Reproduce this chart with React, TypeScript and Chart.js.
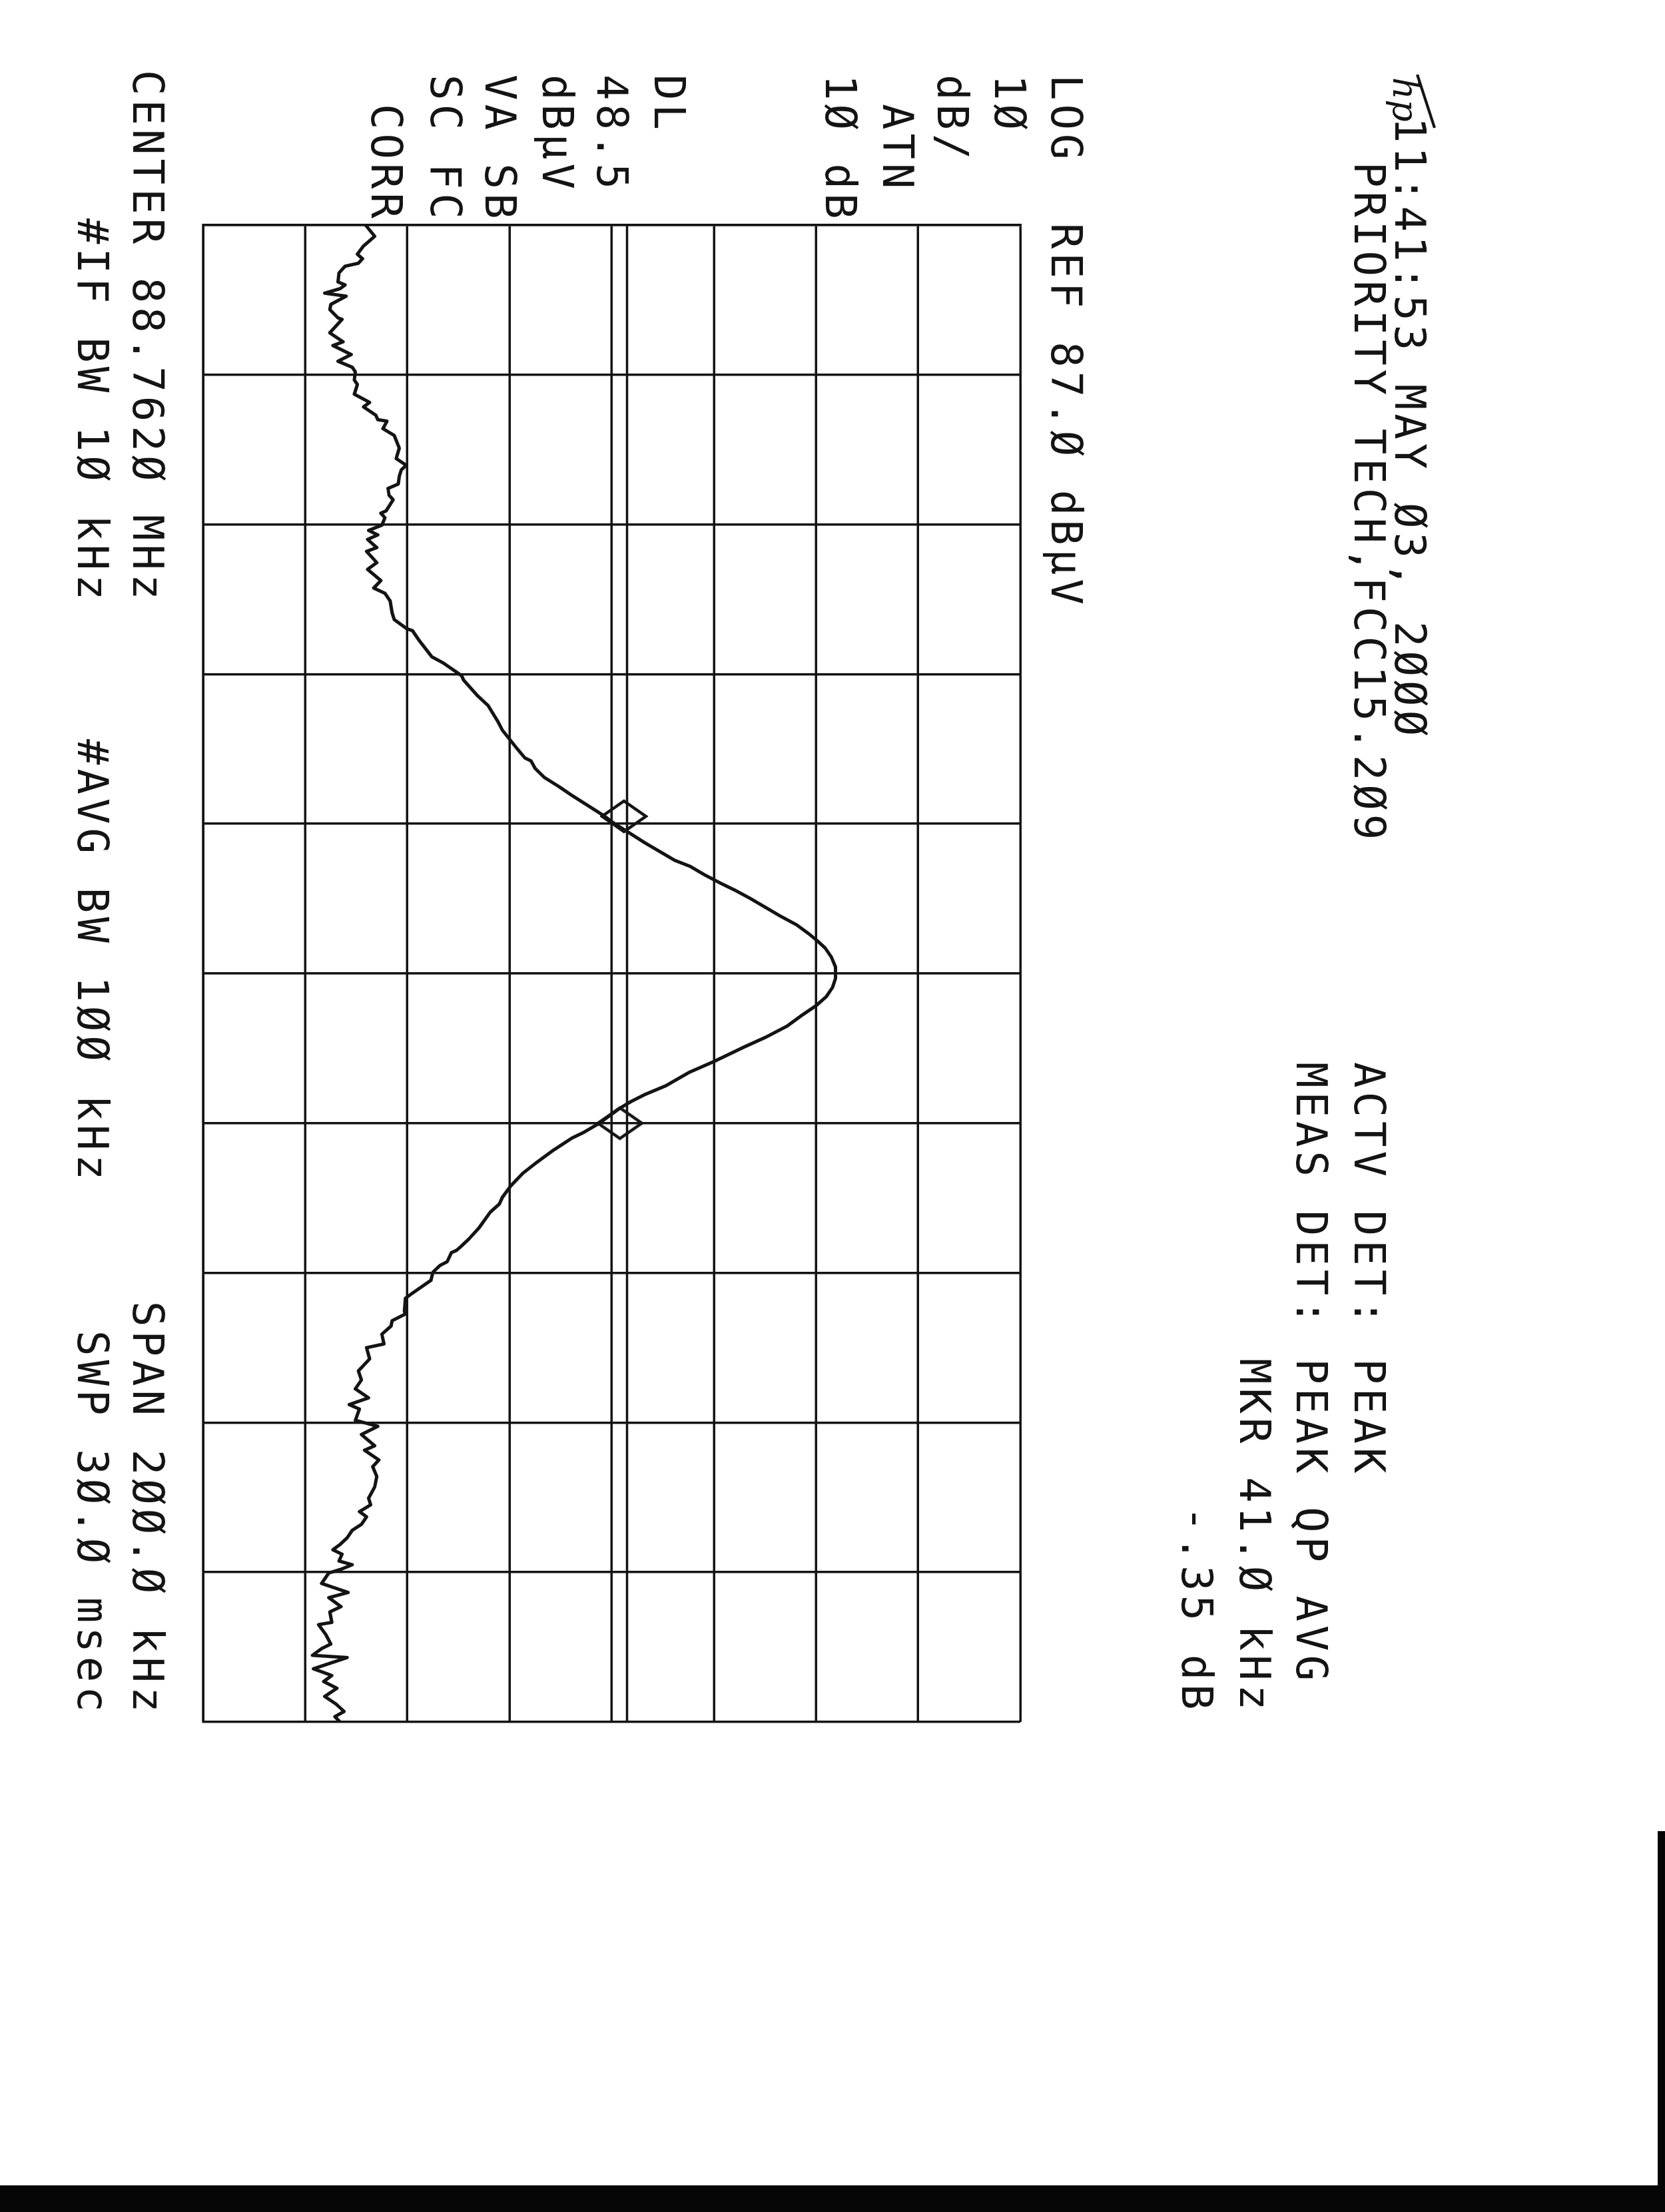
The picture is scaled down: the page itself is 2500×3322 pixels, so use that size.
import { useEffect, useRef } from 'react';
import { Chart, registerables } from 'chart.js';

Chart.register(...registerables);

// ---------------- DATA ----------------
// Frequency offset from the 88.762 MHz centre (kHz)
const freqOffsetsKHz = [
  -100, -98.5, -97.2, -96.1, -95.5, -94.9, -94.5, -93.6, -92.4, -92.0, -91.5, -90.9, -90.5, -89.4, -88.7,
  -87.6, -87.4, -85.6, -84.4, -83.9, -82.7, -81.8, -81.0, -80.4, -79.3, -78.7, -77.4, -76.6, -76.3, -75.7,
  -74.6, -74.0, -73.8, -72.8, -71.9, -70.2, -68.8, -67.9, -67.3, -66.4, -65.4, -64.8, -63.9, -63.3, -61.8,
  -61.5, -60.9, -59.9, -59.2, -58.6, -58.0, -56.9, -56.4, -54.9, -54.0, -52.5, -51.5, -50.8, -49.8, -48.2,
  -47.3, -46.1, -45.8, -44.4, -42.3, -41.5, -39.8, -39.2, -37.2, -35.8, -33.8, -32.5, -31.3, -30.1, -28.8,
  -28.4, -27.4, -26.2, -25.0, -23.8, -22.5, -21.2, -20.0, -18.8, -17.5, -16.3, -15.1, -14.3, -13.1, -12.1,
  -11.1, -10.0, -8.8, -7.6, -6.5, -5.3, -4.4, -3.4, -2.2, -0.9, 0.0, 0.7, 1.9, 3.1, 4.3,
  5.6, 7.0, 8.5, 9.8, 11.7, 13.2, 15.0, 16.2, 17.1, 18.0, 19.2, 20.0, 21.2, 22.0, 23.6,
  25.4, 26.7, 28.4, 29.9, 30.8, 31.9, 34.0, 35.5, 36.4, 37.0, 37.3, 38.5, 39.0, 39.9, 41.0,
  42.8, 43.4, 45.1, 45.5, 46.4, 47.1, 48.2, 49.5, 50.0, 51.5, 53.1, 54.3, 55.5, 56.7, 57.6,
  58.2, 59.7, 60.5, 61.6, 63.1, 63.7, 65.0, 65.9, 67.2, 68.6, 70.1, 71.0, 71.9, 72.6, 73.6,
  74.4, 75.4, 76.3, 77.0, 77.6, 78.5, 79.0, 79.6, 80.1, 81.5, 82.7, 83.4, 84.6, 85.3, 86.7,
  87.0, 88.3, 89.6, 90.2, 91.1, 91.4, 92.9, 93.8, 94.6, 95.5, 96.6, 97.6, 98.6, 99.3, 100,
];

// Measured level (dBµV)
const levelsDbuv = [
  22.9, 23.8, 22.7, 22.1, 22.6, 22.2, 20.9, 20.3, 20.2, 20.9, 20.4, 18.9, 21.0, 19.5, 19.4,
  20.2, 20.6, 19.4, 20.7, 19.7, 21.5, 20.2, 21.6, 21.9, 21.8, 22.1, 21.8, 22.9, 23.3, 22.7,
  23.9, 24.1, 25.0, 24.6, 25.7, 26.2, 25.9, 26.9, 26.4, 26.2, 26.1, 25.1, 25.2, 25.6, 24.9,
  24.4, 24.8, 24.5, 23.2, 24.1, 23.1, 24.0, 23.0, 24.0, 23.1, 24.4, 23.7, 24.8, 25.3, 25.5,
  25.7, 26.9, 27.5, 28.2, 29.4, 30.5, 32.3, 32.5, 33.8, 34.9, 35.8, 36.3, 37.0, 37.7, 38.5,
  39.1, 39.5, 40.4, 41.8, 43.1, 44.6, 46.1, 47.3, 48.7, 50.2, 51.7, 53.2, 54.7, 56.2, 57.6,
  59.1, 60.6, 62.1, 63.6, 65.1, 66.3, 67.1, 67.9, 68.5, 68.9, 68.9, 68.9, 68.6, 68.0, 67.0,
  65.6, 64.2, 62.1, 60.0, 57.1, 54.6, 52.3, 50.2, 48.9, 47.8, 46.6, 45.8, 44.3, 43.1, 41.3,
  39.5, 38.3, 37.1, 36.3, 36.0, 35.1, 34.0, 33.0, 32.3, 31.8, 31.3, 30.9, 30.2, 29.5, 29.3,
  27.4, 26.8, 26.7, 26.8, 25.5, 25.4, 24.5, 24.7, 23.0, 23.3, 22.2, 22.5, 21.9, 23.2, 21.3,
  22.3, 21.9, 24.1, 22.5, 23.8, 22.8, 24.2, 23.6, 24.0, 23.8, 23.2, 23.4, 22.3, 23.0, 22.5,
  21.6, 21.1, 20.4, 19.7, 20.6, 20.3, 21.6, 20.5, 19.3, 18.6, 21.2, 19.3, 20.5, 19.4, 19.6,
  18.3, 19.0, 19.5, 18.6, 17.7, 21.1, 17.8, 19.6, 18.8, 20.1, 18.9, 20.0, 20.8, 19.9, 20.4,
];

// Graticule: 20 kHz/div, 10 dB/div from REF 87.0 dBµV
const freqGridKHz = [-100, -80, -60, -40, -20, 0, 20, 40, 60, 80, 100];
const levelGridDbuv = [7, 17, 27, 37, 47, 57, 67, 77, 87];

// Display line (DL) and delta-marker pair
const displayLineDbuv = 48.5;
const markerFreqsKHz = [-21.0, 20.0];
const markerLevelsDbuv = [48.2, 47.8];

// Annotation strings (as printed by the analyzer plotter)
const annotationTexts = [
  '11:41:53 MAY Ø3, 2ØØØ',
  'PRIORITY TECH,FCC15.2Ø9',
  'ACTV DET: PEAK',
  'MEAS DET: PEAK QP AVG',
  'MKR 41.Ø kHz',
  '-.35 dB',
  'LOG',
  'REF 87.Ø dBµV',
  '1Ø',
  'dB/',
  'ATN',
  '1Ø dB',
  'DL',
  '48.5',
  'dBµV',
  'VA SB',
  'SC FC',
  'CORR',
  'CENTER 88.762Ø MHz',
  '#IF BW 1Ø kHz',
  '#AVG BW 1ØØ kHz',
  'SPAN 2ØØ.Ø kHz',
  'SWP 3Ø.Ø msec',
];
const logoText = 'hp';

// ---------------- LAYOUT (landscape canvas, rotated 90° clockwise on the page) ----------------
const PAGE_W = 2500;
const PAGE_H = 3322;
const CANVAS_W = PAGE_H; // landscape
const CANVAS_H = PAGE_W;
const AREA = { left: 338, right: 2586, top: 968, bottom: 2195 };
const INK = '#141414';
const FONT_PX = 64;
const LETTER_SPACING = 6;

// [x, baseline y] for each annotation string, same order as annotationTexts
const annotationPositions: [number, number][] = [
  [176, 405],
  [243, 466],
  [1595, 466],
  [1595, 553],
  [2040, 638],
  [2262, 725],
  [112, 921],
  [335, 921],
  [112, 1006],
  [112, 1092],
  [156, 1174],
  [112, 1260],
  [112, 1517],
  [112, 1603],
  [112, 1685],
  [112, 1771],
  [112, 1853],
  [156, 1942],
  [105, 2300],
  [328, 2383],
  [1110, 2383],
  [1954, 2300],
  [1998, 2383],
];

function makeDiamond(): HTMLCanvasElement {
  const c = document.createElement('canvas');
  const w = 52;
  const h = 72;
  c.width = w;
  c.height = h;
  const g = c.getContext('2d')!;
  g.strokeStyle = INK;
  g.lineWidth = 4.5;
  g.lineJoin = 'miter';
  g.beginPath();
  g.moveTo(w / 2, 3);
  g.lineTo(w - 3, h / 2);
  g.lineTo(w / 2, h - 3);
  g.lineTo(3, h / 2);
  g.closePath();
  g.stroke();
  return c;
}

const annotationPlugin = {
  id: 'hpAnnotations',
  beforeDraw(chart: any) {
    const ctx = chart.ctx as CanvasRenderingContext2D;
    ctx.save();
    ctx.fillStyle = '#ffffff';
    ctx.fillRect(0, 0, chart.width, chart.height);
    ctx.restore();
  },
  afterDraw(chart: any) {
    const ctx = chart.ctx as CanvasRenderingContext2D;
    ctx.save();
    ctx.fillStyle = INK;
    ctx.textAlign = 'left';
    ctx.textBaseline = 'alphabetic';
    ctx.font = `${FONT_PX}px "DejaVu Sans Mono", monospace`;
    (ctx as any).letterSpacing = `${LETTER_SPACING}px`;
    annotationTexts.forEach((t, i) => {
      const [x, y] = annotationPositions[i];
      ctx.fillText(t, x, y);
    });
    // hp logo
    (ctx as any).letterSpacing = '0px';
    ctx.font = `italic 52px "DejaVu Serif", serif`;
    ctx.fillText(logoText, 116, 408);
    ctx.lineWidth = 4;
    ctx.strokeStyle = INK;
    ctx.beginPath();
    ctx.moveTo(112, 372);
    ctx.lineTo(192, 346);
    ctx.stroke();
    ctx.restore();
  },
};

export default function App() {
  const canvasRef = useRef<HTMLCanvasElement | null>(null);

  useEffect(() => {
    const canvas = canvasRef.current;
    if (!canvas) return;
    const trace = freqOffsetsKHz.map((f, i) => ({ x: f, y: levelsDbuv[i] }));
    const dl = [
      { x: freqGridKHz[0], y: displayLineDbuv },
      { x: freqGridKHz[freqGridKHz.length - 1], y: displayLineDbuv },
    ];
    const markers = markerFreqsKHz.map((f, i) => ({ x: f, y: markerLevelsDbuv[i] }));
    const diamond = makeDiamond();

    const gridOpts = {
      display: true,
      color: INK,
      lineWidth: 3.5,
      drawTicks: false,
    };

    const chart = new Chart(canvas, {
      type: 'scatter',
      data: {
        datasets: [
          {
            label: 'Trace',
            data: trace,
            showLine: true,
            borderColor: INK,
            borderWidth: 5,
            pointRadius: 0,
            tension: 0,
            borderJoinStyle: 'round',
            borderCapStyle: 'round',
          },
          {
            label: 'DL',
            data: dl,
            showLine: true,
            borderColor: INK,
            borderWidth: 3.5,
            pointRadius: 0,
          },
          {
            label: 'Markers',
            data: markers,
            showLine: false,
            pointStyle: diamond as any,
            pointRadius: 30,
          },
        ],
      },
      options: {
        animation: false,
        responsive: false,
        devicePixelRatio: 1,
        layout: {
          padding: {
            left: AREA.left,
            right: CANVAS_W - AREA.right,
            top: AREA.top,
            bottom: CANVAS_H - AREA.bottom,
          },
        },
        plugins: {
          legend: { display: false },
          tooltip: { enabled: false },
          title: { display: false },
        },
        scales: {
          x: {
            type: 'linear',
            min: freqGridKHz[0],
            max: freqGridKHz[freqGridKHz.length - 1],
            ticks: { display: false },
            afterBuildTicks: (scale: any) => {
              scale.ticks = freqGridKHz.map((v) => ({ value: v }));
            },
            grid: gridOpts,
            border: { display: true, color: INK, width: 3.5 },
          },
          y: {
            type: 'linear',
            min: levelGridDbuv[0],
            max: levelGridDbuv[levelGridDbuv.length - 1],
            ticks: { display: false },
            afterBuildTicks: (scale: any) => {
              scale.ticks = levelGridDbuv.map((v) => ({ value: v }));
            },
            grid: gridOpts,
            border: { display: true, color: INK, width: 3.5 },
          },
        },
      },
      plugins: [annotationPlugin],
    } as any);

    return () => {
      chart.destroy();
    };
  }, []);

  return (
    <div
      style={{
        position: 'absolute',
        left: 0,
        top: 0,
        width: PAGE_W,
        height: PAGE_H,
        overflow: 'hidden',
        background: '#ffffff',
      }}
    >
      <canvas
        ref={canvasRef}
        width={CANVAS_W}
        height={CANVAS_H}
        style={{
          position: 'absolute',
          left: 0,
          top: 0,
          width: CANVAS_W,
          height: CANVAS_H,
          transformOrigin: '0 0',
          transform: `translate(${PAGE_W}px, 0px) rotate(90deg)`,
        }}
      />
      <div style={{ position: 'absolute', left: 0, top: 3282, width: PAGE_W, height: PAGE_H - 3282, background: '#050505' }} />
      <div style={{ position: 'absolute', left: 2489, top: 2750, width: 11, height: 3282 - 2750, background: '#050505' }} />
    </div>
  );
}
